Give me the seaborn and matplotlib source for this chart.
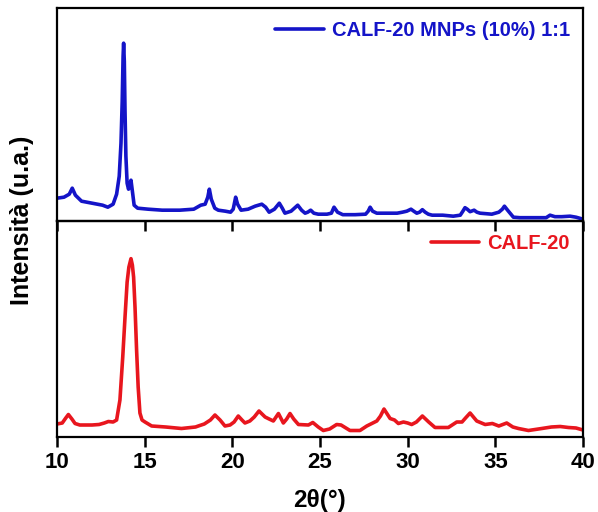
import pandas as pd
import matplotlib.pyplot as plt
import seaborn as sns

# XRD pattern, CALF-20 MNPs (10%) 1:1 (a.u.)
mnp_2theta = [10.0, 10.4, 10.7, 10.87, 11.05, 11.4, 12.0, 12.6, 12.9, 13.2, 13.4,
              13.55, 13.65, 13.72, 13.77, 13.8, 13.84, 13.88, 13.93, 14.0, 14.08,
              14.15, 14.22, 14.3, 14.4, 14.6, 15.2, 16.0, 17.0, 17.8, 18.2, 18.45,
              18.6, 18.69, 18.8, 19.0, 19.2, 19.6, 19.9, 20.05, 20.19, 20.3, 20.5,
              20.9, 21.3, 21.68, 21.9, 22.1, 22.4, 22.68, 22.85, 23.0, 23.35, 23.73,
              23.95, 24.15, 24.3, 24.47, 24.65, 24.9, 25.4, 25.65, 25.8, 26.0, 26.3,
              27.0, 27.6, 27.75, 27.86, 28.0, 28.24, 28.8, 29.4, 29.7, 29.95, 30.19,
              30.35, 30.52, 30.68, 30.84, 31.0, 31.18, 31.4, 32.0, 32.6, 33.0, 33.15,
              33.27, 33.4, 33.56, 33.79, 33.95, 34.13, 34.8, 35.2, 35.4, 35.52, 35.7,
              36.03, 36.4, 37.2, 37.9, 38.12, 38.4, 38.79, 39.26, 39.6, 40.0]
mnp_int = [23, 24, 27, 33, 26, 20, 18, 16, 14, 17, 27,
           45, 78, 120, 165, 178, 160, 110, 65, 38, 32,
           36, 41, 30, 16, 13, 12, 11, 11, 12, 16, 17,
           24, 32, 22, 13, 11, 10, 9, 12, 24, 17, 11,
           12, 15, 17, 14, 9, 12, 18, 13, 8, 10, 16,
           11, 8, 9, 11, 8, 7, 7, 8, 14, 9, 6.5,
           6.5, 7, 10, 14, 10, 8, 8, 8, 9, 10, 12,
           10, 8, 9, 11.5, 9, 7, 6, 6, 5, 6, 10,
           13.5, 12, 9.5, 11, 9, 8, 7, 9, 12, 15, 11,
           4, 3.5, 3.5, 3.5, 6, 4.5, 4.5, 5, 4, 2]

# XRD pattern, CALF-20
calf_2theta = [10.0, 10.3, 10.5, 10.65, 10.85, 11.03, 11.3, 12.0, 12.4, 12.7, 12.93,
               13.2, 13.4, 13.59, 13.75, 13.88, 14.0, 14.1, 14.22, 14.3, 14.37,
               14.45, 14.54, 14.63, 14.73, 14.85, 15.02, 15.4, 16.2, 17.1, 17.9,
               18.06, 18.4, 18.75, 19.01, 19.3, 19.58, 19.87, 20.1, 20.34, 20.55,
               20.72, 21.0, 21.25, 21.52, 21.87, 22.1, 22.34, 22.63, 22.91, 23.1,
               23.29, 23.5, 23.77, 24.34, 24.59, 24.9, 25.19, 25.55, 25.95, 26.2,
               26.71, 27.28, 27.67, 28.24, 28.45, 28.65, 29.0, 29.25, 29.47, 29.76,
               30.0, 30.23, 30.5, 30.84, 31.2, 31.56, 32.32, 32.8, 33.1, 33.3, 33.56,
               33.94, 34.42, 34.83, 35.2, 35.65, 36.0, 36.32, 36.89, 37.65, 38.2,
               38.7, 39.17, 39.6, 40.0]
calf_int = [13, 14, 19, 22.5, 18, 13.5, 12, 12, 12.5, 14, 15.5,
            15, 17, 37, 80, 120, 155, 170, 178.5, 172, 160,
            130, 87, 50, 24, 17, 15, 11, 10, 8.5, 10,
            11, 13, 17, 22, 17, 11, 12, 15, 21, 17,
            14, 16, 20, 26, 20, 18, 16, 23.5, 14, 18,
            23.5, 18, 12.5, 12, 14.5, 10, 6.5, 8, 12.5, 12,
            6.5, 6.5, 11, 16, 21, 28, 18.5, 17, 13.5, 15,
            14, 12.5, 15, 21, 15, 9.5, 9.5, 15, 15, 19, 24,
            16, 12.5, 13.5, 11, 14, 10, 8.5, 6.5, 8.5, 10,
            10.5, 9.5, 9, 7]

mnp = pd.DataFrame({"2theta": mnp_2theta, "I": mnp_int})
calf = pd.DataFrame({"2theta": calf_2theta, "I": calf_int})

sns.set_theme(style="ticks")
plt.rcParams["font.family"] = ["Liberation Sans", "DejaVu Sans"]
plt.rcParams["font.weight"] = "bold"
plt.rcParams["text.color"] = "black"
plt.rcParams["axes.labelcolor"] = "black"
plt.rcParams["xtick.color"] = "black"

blue = "#1414C8"
red = "#E8161E"

fig = plt.figure(figsize=(5.98, 5.12), dpi=100)
ax_top = fig.add_axes([0.0953, 0.568, 0.8796, 0.416])
ax_bot = fig.add_axes([0.0953, 0.1465, 0.8796, 0.4215])
ax_top.set_zorder(3)
ax_top.patch.set_alpha(0)

sns.lineplot(data=mnp, x="2theta", y="I", ax=ax_top, color=blue, linewidth=2.6,
             label="CALF-20 MNPs (10%) 1:1")
sns.lineplot(data=calf, x="2theta", y="I", ax=ax_bot, color=red, linewidth=2.6,
             label="CALF-20")

ax_top.set_ylim(0, 213)
ax_bot.set_ylim(0, 216)

for ax in (ax_top, ax_bot):
    ax.set_xlim(10, 40)
    ax.set_xticks([10, 15, 20, 25, 30, 35, 40])
    ax.set_yticks([])
    ax.set_ylabel("")
    ax.set_xlabel("")
    for s in ax.spines.values():
        s.set_linewidth(1.6)
        s.set_color("black")
        s.set_visible(True)
    ax.tick_params(axis="x", direction="out", length=7, width=1.8, color="black",
                   labelsize=16, labelcolor="black")
    ax.legend(loc="upper right", frameon=False, handlelength=2.4, handletextpad=0.4,
              prop={"weight": "bold", "size": 14.5}, labelcolor="linecolor",
              borderaxespad=0.25)

ax_top.tick_params(axis="x", labelbottom=False)
for lab in ax_bot.get_xticklabels():
    lab.set_fontweight("bold")

ax_bot.set_xlabel("2θ(°)", fontsize=17.5, fontweight="bold", labelpad=12, color="black")
fig.text(0.036, 0.57, "Intensità (u.a.)", rotation=90, ha="center", va="center",
         fontsize=18, fontweight="bold", color="black")

fig.savefig("out.png", dpi=100)
